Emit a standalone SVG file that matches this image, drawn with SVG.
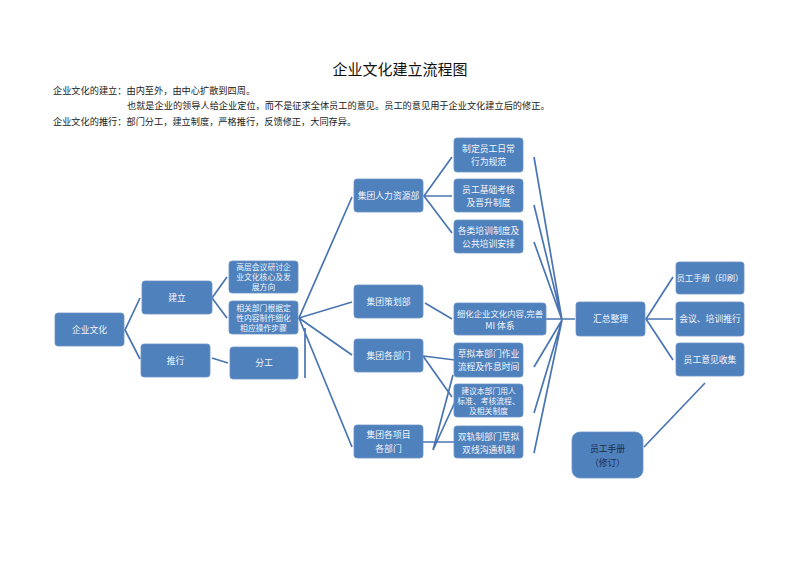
<svg xmlns="http://www.w3.org/2000/svg" width="800" height="566" viewBox="0 0 800 566">
<style>
.t{font-family:"Noto Sans CJK SC","Noto Sans",sans-serif;}
.hd{font-size:9.2px;fill:#222;}
.ttl{font-size:15px;fill:#111;}
.box{fill:#4f81bd;stroke:#6d93c6;stroke-width:0.8;}
.lbl{font-size:8.8px;fill:#f2f5fa;text-anchor:middle;}
.sm{font-size:7.8px;}
.dk{font-size:8.8px;fill:#1f2d4a;text-anchor:middle;}
.c{stroke:#4a75b2;stroke-width:1.7;fill:none;}
</style>
<rect width="800" height="566" fill="#ffffff"/>
<text class="t ttl" x="400" y="75" text-anchor="middle">企业文化建立流程图</text>
<text class="t hd" x="53" y="94">企业文化的建立：由内至外，由中心扩散到四周。</text>
<text class="t hd" x="127" y="109">也就是企业的领导人给企业定位，而不是征求全体员工的意见。员工的意见用于企业文化建立后的修正。</text>
<text class="t hd" x="53" y="125">企业文化的推行：部门分工，建立制度，严格推行，反馈修正，大同存异。</text>

<g id="connectors">
<path class="c" d="M140,298 L125,330 L140,359"/>
<path class="c" d="M227,277 L212,298 L227,318"/>
<path class="c" d="M212,358 L228,363"/>
<path class="c" d="M352,197 L299,318 L352,302 M299,318 L352,355 M299,318 L352,447 M305,328 L305,378"/>
<path class="c" d="M452,157 L424,196 L452,233 M424,196 L452,196"/>
<path class="c" d="M425,303 L452,319"/>
<path class="c" d="M455,360 L423,356 L452,397"/>
<path class="c" d="M423,442 L455,442 M453,375 L433,450 L455,402"/>
<path class="c" d="M534,157 L562,320 L534,205 M534,242 L562,320 M546,319 L575,319 M534,367 L562,320 L534,413 M534,453 L562,320"/>
<path class="c" d="M673,277 L646,319 L673,360 M646,319 L673,319"/>
<path class="c" d="M644,447 L705,383"/>
</g>

<g id="n1"><rect class="box" x="55" y="313" width="69" height="33" rx="3"/><text class="t lbl" x="89.5" y="333">企业文化</text></g>
<g id="n2"><rect class="box" x="142" y="281" width="70" height="33" rx="3"/><text class="t lbl" x="177" y="301">建立</text></g>
<g id="n3"><rect class="box" x="141" y="344" width="69" height="33" rx="3"/><text class="t lbl" x="175.5" y="364">推行</text></g>
<g id="n4"><rect class="box" x="229" y="261" width="69" height="32" rx="3"/><text class="t lbl sm" x="263.5" y="270">高层会议研讨企</text><text class="t lbl sm" x="263.5" y="280">业文化核心及发</text><text class="t lbl sm" x="263.5" y="290">展方向</text></g>
<g id="n5"><rect class="box" x="229" y="301" width="69" height="33" rx="3"/><text class="t lbl sm" x="263.5" y="310.5">相关部门根据定</text><text class="t lbl sm" x="263.5" y="320.5">性内容制作细化</text><text class="t lbl sm" x="263.5" y="330.5">相应操作步骤</text></g>
<g id="n6"><rect class="box" x="230" y="347" width="68" height="32" rx="3"/><text class="t lbl" x="264" y="366">分工</text></g>

<g id="n7"><rect class="box" x="354" y="179" width="69" height="33" rx="3"/><text class="t lbl" x="388.5" y="199">集团人力资源部</text></g>
<g id="n8"><rect class="box" x="354" y="285" width="69" height="33" rx="3"/><text class="t lbl" x="388.5" y="305">集团策划部</text></g>
<g id="n9"><rect class="box" x="354" y="339" width="69" height="33" rx="3"/><text class="t lbl" x="388.5" y="359">集团各部门</text></g>
<g id="n10"><rect class="box" x="354" y="425" width="69" height="33" rx="3"/><text class="t lbl" x="388.5" y="438">集团各项目</text><text class="t lbl" x="388.5" y="452">各部门</text></g>

<g id="n11"><rect class="box" x="454" y="138" width="69" height="34" rx="3"/><text class="t lbl" x="488.5" y="152">制定员工日常</text><text class="t lbl" x="488.5" y="165">行为规范</text></g>
<g id="n12"><rect class="box" x="454" y="179" width="69" height="33" rx="3"/><text class="t lbl" x="488.5" y="193">员工基础考核</text><text class="t lbl" x="488.5" y="206">及晋升制度</text></g>
<g id="n13"><rect class="box" x="454" y="220" width="69" height="33" rx="3"/><text class="t lbl" x="488.5" y="234">各类培训制度及</text><text class="t lbl" x="488.5" y="247">公共培训安排</text></g>
<g id="n14"><rect class="box" x="454" y="303" width="92" height="32" rx="3"/><text class="t lbl" x="500" y="317" style="font-size:8.4px">细化企业文化内容,完善</text><text class="t lbl" x="500" y="329">MI 体系</text></g>
<g id="n15"><rect class="box" x="454" y="343" width="69" height="34" rx="3"/><text class="t lbl" x="488.5" y="357">草拟本部门作业</text><text class="t lbl" x="488.5" y="370">流程及作息时间</text></g>
<g id="n16"><rect class="box" x="454" y="384" width="69" height="33" rx="3"/><text class="t lbl sm" x="488.5" y="393.5">建议本部门用人</text><text class="t lbl sm" x="488.5" y="403.5">标准、考核流程、</text><text class="t lbl sm" x="488.5" y="413.5">及相关制度</text></g>
<g id="n17"><rect class="box" x="454" y="426" width="69" height="32" rx="3"/><text class="t lbl" x="488.5" y="440">双轨制部门草拟</text><text class="t lbl" x="488.5" y="453">双线沟通机制</text></g>

<g id="n18"><rect class="box" x="576" y="302" width="69" height="34" rx="3"/><text class="t lbl" x="610.5" y="322">汇总整理</text></g>
<g id="n19"><rect class="box" x="676" y="262" width="68" height="32" rx="3"/><text class="t lbl" x="710" y="281" style="font-size:8.4px">员工手册（印刷）</text></g>
<g id="n20"><rect class="box" x="676" y="302" width="68" height="34" rx="3"/><text class="t lbl" x="710" y="322">会议、培训推行</text></g>
<g id="n21"><rect class="box" x="676" y="343" width="68" height="33" rx="3"/><text class="t lbl" x="710" y="363">员工意见收集</text></g>
<g id="n22"><rect class="box" x="572" y="432" width="71" height="46" rx="8"/><text class="t dk" x="607.5" y="452">员工手册</text><text class="t dk" x="607.5" y="466">（修订）</text></g>
</svg>
